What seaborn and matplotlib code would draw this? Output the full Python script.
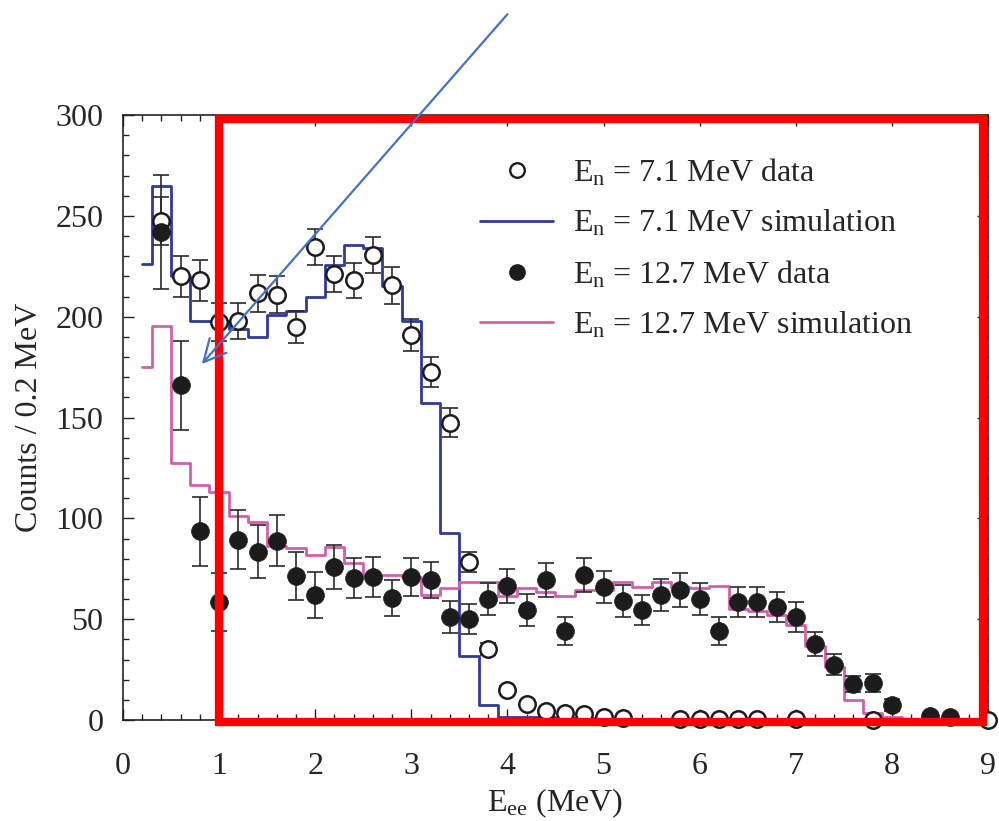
import numpy as np
import matplotlib
matplotlib.use("Agg")
import matplotlib.pyplot as plt
import seaborn as sns
from matplotlib.lines import Line2D
from matplotlib.patches import Rectangle
from matplotlib.ticker import MultipleLocator

sns.set_theme(style="ticks")
plt.rcParams["font.family"] = ["Liberation Serif", "DejaVu Serif"]
plt.rcParams["mathtext.fontset"] = "custom"
plt.rcParams["mathtext.rm"] = "Liberation Serif"
plt.rcParams["mathtext.it"] = "Liberation Serif:italic"

# ---- simulated spectra (step histograms, 0.2 MeV bins; first bin partial) ----
sim71_edges = [0.2, 0.3, 0.5, 0.7, 0.9, 1.1, 1.3, 1.5, 1.7, 1.9, 2.1, 2.3, 2.5,
               2.7, 2.9, 3.1, 3.3, 3.5, 3.7, 3.9, 4.1, 4.3, 4.5, 4.7, 4.9]
sim71_counts = [226, 265, 220, 198, 198, 194, 190, 201, 203, 210, 225.5, 235.5,
                234, 215, 198, 157, 92.5, 31.5, 7.5, 1.7, 1.5, 1.3, 1.2, 1.0]

sim127_edges = [0.2, 0.3, 0.5, 0.7, 0.9, 1.1, 1.3, 1.5, 1.7, 1.9, 2.1, 2.3, 2.5,
                2.7, 2.9, 3.1, 3.3, 3.5, 3.7, 3.9, 4.1, 4.3, 4.5, 4.7, 4.9, 5.1,
                5.3, 5.5, 5.7, 5.9, 6.1, 6.3, 6.5, 6.7, 6.9, 7.1, 7.3, 7.5, 7.7,
                7.9, 8.1]
sim127_counts = [175, 195.5, 127.5, 116.5, 113, 101, 98, 86.5, 85.5, 82, 86, 78,
                 72, 72, 71, 62, 65.5, 68.5, 68.5, 61.5, 65.5, 63.5, 61.5, 64.5,
                 64.5, 68.5, 66, 68.5, 66, 65.5, 66.5, 55, 54, 52, 47, 36.5, 26.5,
                 10, 3.5, 1.7]

# ---- measured spectra ----
data71_x = [0.4, 0.6, 0.8, 1.0, 1.2, 1.4, 1.6, 1.8, 2.0, 2.2, 2.4, 2.6, 2.8, 3.0,
            3.2, 3.4, 3.6, 3.8, 4.0, 4.2, 4.4, 4.6, 4.8, 5.0, 5.2, 5.8, 6.0, 6.2,
            6.4, 6.6, 7.0, 7.8, 9.0]
data71_y = [247.5, 220, 218, 197.5, 198, 211.5, 211, 195, 234.5, 221, 218, 230.5,
            215.5, 191, 172.5, 147.5, 78.5, 35, 15, 8, 4.5, 3.5, 3, 1.5, 0.8, 0.5,
            0.5, 0.5, 0.5, 0.5, 0.3, 0, 0]
data71_err = [12, 10, 10, 9.5, 9, 9, 9, 8, 9, 9, 8.5, 9, 9, 8, 7.5, 7, 5, 3, 2,
              1.5, 1, 1, 1, 0.8, 0.5, 0.4, 0.4, 0.4, 0.4, 0.4, 0.3, 0, 0]

data127_x = [0.4, 0.6, 0.8, 1.0, 1.2, 1.4, 1.6, 1.8, 2.0, 2.2, 2.4, 2.6, 2.8, 3.0,
             3.2, 3.4, 3.6, 3.8, 4.0, 4.2, 4.4, 4.6, 4.8, 5.0, 5.2, 5.4, 5.6, 5.8,
             6.0, 6.2, 6.4, 6.6, 6.8, 7.0, 7.2, 7.4, 7.6, 7.8, 8.0, 8.4, 8.6]
data127_y = [242, 166, 93.5, 58.5, 89.5, 83.5, 89, 71.5, 62, 76, 70.5, 71, 60.5,
             71, 69.5, 51, 50, 60, 66.5, 54.5, 69.5, 44, 72, 66, 59, 54.5, 62,
             64.5, 60, 44, 58.5, 58.5, 56, 51, 37.5, 27.5, 18, 18.5, 7.5, 2, 1.5]
data127_err = [28.5, 22, 17, 14.5, 14.5, 13, 12.5, 12, 11.5, 11, 10, 10, 9, 9.5,
               9, 8, 7.5, 8, 8.5, 8, 8.5, 7, 8.5, 8, 8, 7.5, 8, 8.5, 8, 7, 7.5,
               7.5, 7.5, 7.5, 6, 5, 4, 4.5, 3, 1.5, 1.2]

legend_labels = [r"E$_{\mathrm{n}}$ = 7.1 MeV data",
                 r"E$_{\mathrm{n}}$ = 7.1 MeV simulation",
                 r"E$_{\mathrm{n}}$ = 12.7 MeV data",
                 r"E$_{\mathrm{n}}$ = 12.7 MeV simulation"]

BLUE = "#2F3A9E"
PINK = "#D160AC"
INK = "#1c1c1c"
FS = 23

fig = plt.figure(figsize=(9.99, 8.21), dpi=100)
ax = fig.add_axes([0.1231, 0.1230, 0.8659, 0.7369])


def centers(edges):
    e = np.asarray(edges)
    return (e[:-1] + e[1:]) / 2


sns.histplot(x=centers(sim71_edges), weights=sim71_counts, bins=sim71_edges,
             element="step", fill=False, color=BLUE, linewidth=2.0, ax=ax, zorder=2)
sns.histplot(x=centers(sim127_edges), weights=sim127_counts, bins=sim127_edges,
             element="step", fill=False, color=PINK, linewidth=2.0, ax=ax, zorder=2)

ax.errorbar(data71_x, data71_y, yerr=data71_err, fmt="none", ecolor="#2a2a2a",
            elinewidth=1.2, capsize=6, capthick=1.2, zorder=3)
ax.errorbar(data127_x, data127_y, yerr=data127_err, fmt="none", ecolor="#2a2a2a",
            elinewidth=1.2, capsize=6, capthick=1.2, zorder=3)

sns.scatterplot(x=data71_x, y=data71_y, marker="o", s=140, color="white",
                edgecolor=INK, linewidth=1.8, zorder=4, clip_on=False, ax=ax)
sns.scatterplot(x=data127_x, y=data127_y, marker="o", s=165, color=INK,
                edgecolor=INK, linewidth=0.5, zorder=5, clip_on=False, ax=ax)

ax.set_xlim(0, 9)
ax.set_ylim(0, 300)
ax.xaxis.set_major_locator(MultipleLocator(1))
ax.xaxis.set_minor_locator(MultipleLocator(0.2))
ax.yaxis.set_major_locator(MultipleLocator(50))
ax.yaxis.set_minor_locator(MultipleLocator(10))
ax.tick_params(which="both", direction="in", top=True, right=True,
               color="#222222", width=1.0, labelsize=FS)
ax.tick_params(which="major", length=8)
ax.tick_params(which="minor", length=4.5)
ax.tick_params(axis="x", which="major", pad=23)
ax.tick_params(axis="y", which="major", pad=14)
for sp in ax.spines.values():
    sp.set_linewidth(1.2)
    sp.set_color("#222222")

ax.set_xlabel(r"E$_{\mathrm{ee}}$ (MeV)", fontsize=FS, labelpad=4)
ax.set_ylabel("Counts / 0.2 MeV", fontsize=FS, labelpad=8)

handles = [
    Line2D([], [], marker="o", ls="none", mfc="white", mec=INK, ms=10.5, mew=1.7),
    Line2D([], [], color=BLUE, lw=2.0),
    Line2D([], [], marker="o", ls="none", mfc=INK, mec=INK, ms=11),
    Line2D([], [], color=PINK, lw=2.0),
]
ax.legend(handles, legend_labels, loc="upper left", frameon=False,
          bbox_to_anchor=(480 / 999, 1 - 157 / 821), bbox_transform=fig.transFigure,
          fontsize=FS, handlelength=2.3, handletextpad=0.6, labelspacing=0.62,
          borderpad=0, borderaxespad=0)

# highlight box and pointer arrow
box = Rectangle((1.0, -1.0), 7.95, 299, transform=ax.transData, fill=False,
                edgecolor="#FF0000", linewidth=6, joinstyle="miter",
                clip_on=False, zorder=10)
ax.add_patch(box)
ax.annotate("", xy=(0.82, 176.5), xytext=(4.0, 350), xycoords="data",
            annotation_clip=False, zorder=11,
            arrowprops=dict(arrowstyle="->,head_length=0.8,head_width=0.4",
                            color="#4472C4", lw=1.6, shrinkA=0, shrinkB=0,
                            mutation_scale=20))

fig.savefig("out.png", dpi=100)
